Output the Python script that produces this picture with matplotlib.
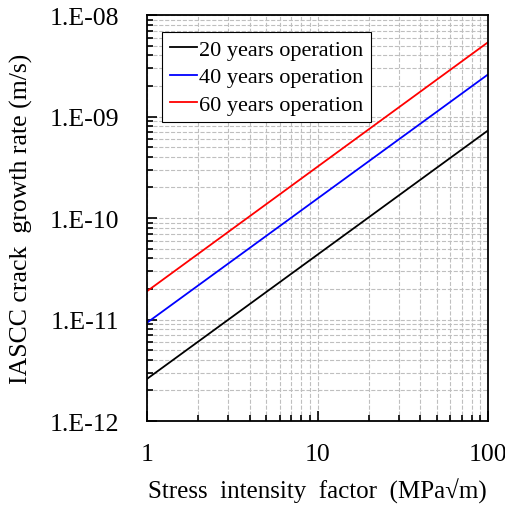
import numpy as np
import matplotlib
matplotlib.use("Agg")
import matplotlib.pyplot as plt
from matplotlib.ticker import LogLocator, FixedLocator, FixedFormatter

plt.rcParams['font.family'] = ['Liberation Serif', 'DejaVu Serif']

# stress intensity factor (MPa sqrt m) at the ends of each line
K = [1, 100]
rate_20 = [2.6e-12, 7.3e-10]
rate_40 = [9.3e-12, 2.6e-9]
rate_60 = [1.9e-11, 5.4e-9]
labels = ['20 years operation', '40 years operation', '60 years operation']
colors = ['black', 'blue', 'red']

y_ticks = [1e-12, 1e-11, 1e-10, 1e-9, 1e-8]
y_ticklabels = ['1.E-12', '1.E-11', '1.E-10', '1.E-09', '1.E-08']

fig = plt.figure(figsize=(5.06, 5.10), dpi=100)
ax = fig.add_axes([0.2905, 0.1725, 0.674, 0.796])

for r, lab, c in zip([rate_20, rate_40, rate_60], labels, colors):
	ax.plot(K, r, color=c, lw=1.3, label=lab)

ax.set_xscale('log')
ax.set_yscale('log')
ax.set_xlim(1, 100)
ax.set_ylim(1e-12, 1e-8)

ax.xaxis.set_major_locator(FixedLocator([1, 10, 100]))
ax.xaxis.set_major_formatter(FixedFormatter(['1', '10', '100']))
ax.xaxis.set_minor_locator(LogLocator(base=10, subs=np.arange(2, 10)))
ax.yaxis.set_major_locator(FixedLocator(y_ticks))
ax.yaxis.set_major_formatter(FixedFormatter(y_ticklabels))
ax.yaxis.set_minor_locator(LogLocator(base=10, subs=np.arange(2, 10)))
ax.xaxis.set_minor_formatter(plt.NullFormatter())
ax.yaxis.set_minor_formatter(plt.NullFormatter())

ax.tick_params(which='both', direction='in', top=False, right=False, labelsize=18.5, width=1.2)
ax.tick_params(which='major', length=7)
ax.tick_params(which='minor', length=4)
ax.tick_params(axis='x', which='major', pad=16)
ax.tick_params(axis='y', which='major', pad=20)

ax.grid(True, which='both', ls='--', color='#bfbfbf', lw=0.8)
for s in ax.spines.values():
	s.set_linewidth(1.3)

ax.set_xlabel('Stress  intensity  factor  (MPa\u221am)', fontsize=18, labelpad=9)
ax.set_ylabel('IASCC crack  growth rate (m/s)', fontsize=18.5, labelpad=12)

leg = ax.legend(loc='upper left', bbox_to_anchor=(0.025, 0.975), fontsize=16, fancybox=False,
	framealpha=1, edgecolor='black', handlelength=1.2, handletextpad=0.1,
	borderpad=0.35, labelspacing=0.3, borderaxespad=0.3)
leg.get_frame().set_linewidth(0.8)

fig.savefig('out.png', dpi=100)
